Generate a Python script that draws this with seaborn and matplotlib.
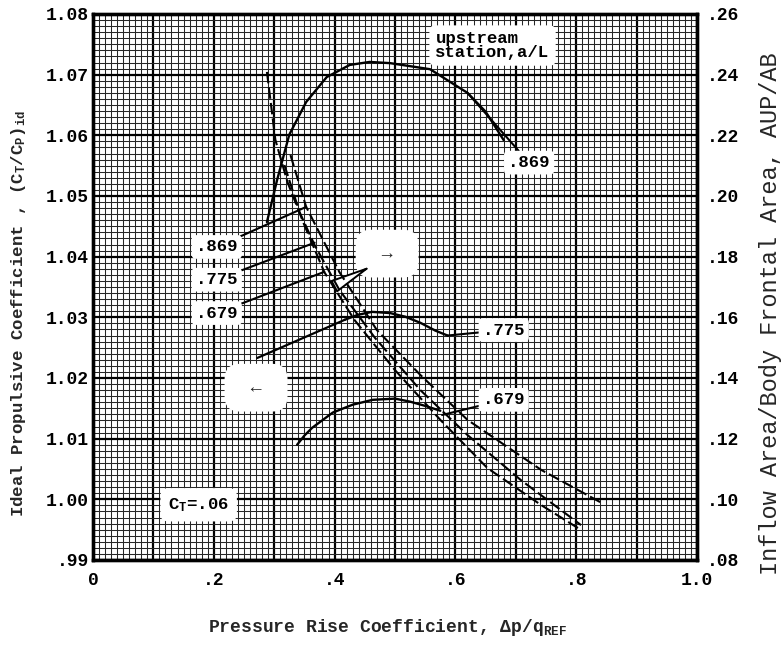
import numpy as np
import pandas as pd
import matplotlib
matplotlib.use("Agg")
import matplotlib.pyplot as plt
from matplotlib.ticker import MultipleLocator, FuncFormatter
import seaborn as sns

# Upstream stations a/L
stations = [".869", ".775", ".679"]

# Ideal propulsive coefficient (left axis) -- solid curves
eta_869_dp = [0.288, 0.305, 0.325, 0.353, 0.387, 0.425, 0.458, 0.492, 0.558, 0.620, 0.650, 0.680]
eta_869 = [1.0457, 1.0527, 1.0601, 1.0655, 1.0696, 1.0716, 1.0721, 1.0719, 1.0709, 1.0670, 1.0639, 1.0592]
eta_775_dp = [0.417, 0.438, 0.462, 0.492, 0.517, 0.542, 0.567, 0.587]
eta_775 = [1.0296, 1.0304, 1.0309, 1.0307, 1.0301, 1.0291, 1.0278, 1.0270]
eta_679_dp = [0.338, 0.350, 0.363, 0.397, 0.430, 0.463, 0.500, 0.525, 0.550, 0.575]
eta_679 = [1.0090, 1.0105, 1.0118, 1.0143, 1.0156, 1.0164, 1.0166, 1.0161, 1.0154, 1.0146]

# Inflow area / body frontal area (right axis) -- dashed curves
area_869_dp = [0.327, 0.353, 0.408, 0.470, 0.542, 0.620, 0.742, 0.845]
area_869 = [0.2135, 0.1964, 0.1749, 0.1558, 0.1410, 0.1262, 0.1097, 0.0985]
area_775_dp = [0.317, 0.342, 0.367, 0.408, 0.467, 0.542, 0.620, 0.708, 0.808]
area_775 = [0.2102, 0.1947, 0.1838, 0.1690, 0.1532, 0.1360, 0.1212, 0.1064, 0.0915]
area_679_dp = [0.288, 0.302, 0.322, 0.350, 0.383, 0.433, 0.500, 0.575, 0.653, 0.742, 0.808]
area_679 = [0.2409, 0.2185, 0.2046, 0.1904, 0.1749, 0.1591, 0.1426, 0.1262, 0.1103, 0.0981, 0.0899]

x_ticks = [0.0, 0.2, 0.4, 0.6, 0.8, 1.0]
x_tick_labels = ["0", ".2", ".4", ".6", ".8", "1.0"]
left_ticks = [0.99, 1.00, 1.01, 1.02, 1.03, 1.04, 1.05, 1.06, 1.07, 1.08]
left_tick_labels = [".99", "1.00", "1.01", "1.02", "1.03", "1.04", "1.05", "1.06", "1.07", "1.08"]
right_ticks = [0.08, 0.10, 0.12, 0.14, 0.16, 0.18, 0.20, 0.22, 0.24, 0.26]
right_tick_labels = [".08", ".10", ".12", ".14", ".16", ".18", ".20", ".22", ".24", ".26"]

solid = pd.concat([
    pd.DataFrame({"station": s, "dp": x, "eta": y})
    for s, x, y in zip(stations, [eta_869_dp, eta_775_dp, eta_679_dp], [eta_869, eta_775, eta_679])
])
dashed = pd.concat([
    pd.DataFrame({"station": s, "dp": x, "area": y})
    for s, x, y in zip(stations, [area_869_dp, area_775_dp, area_679_dp], [area_869, area_775, area_679])
])

sns.set_theme(style="white")
plt.rcParams["font.family"] = ["Liberation Mono", "DejaVu Sans"]
plt.rcParams["mathtext.fontset"] = "custom"
plt.rcParams["mathtext.rm"] = "Liberation Mono:bold"
plt.rcParams["mathtext.it"] = "Liberation Mono:bold"
plt.rcParams["mathtext.bf"] = "Liberation Mono:bold"

fig = plt.figure(figsize=(7.81, 6.45), dpi=100)
ax = fig.add_axes([0.119, 0.1318, 0.7735, 0.8465])
ax2 = ax.twinx()

# graph-paper grid
ax.set_axisbelow(True)
ax.xaxis.set_major_locator(MultipleLocator(0.1))
ax.xaxis.set_minor_locator(MultipleLocator(0.01))
ax.set_yticks(left_ticks)
ax.yaxis.set_minor_locator(MultipleLocator(0.001))
ax.grid(which="minor", color="#262626", lw=0.75)
ax.grid(which="major", color="black", lw=1.6)

xlab = {round(v, 2): t for v, t in zip(x_ticks, x_tick_labels)}
ax.xaxis.set_major_formatter(FuncFormatter(lambda v, p: xlab.get(round(v, 2), "")))
ax.set_yticklabels(left_tick_labels)
ax2.set_yticks(right_ticks)
ax2.set_yticklabels(right_tick_labels)
ax2.grid(False)

for a in (ax, ax2):
    a.tick_params(which="both", length=0, labelsize=13, colors="black")
    for lab in a.get_xticklabels() + a.get_yticklabels():
        lab.set_fontweight("bold")
    for sp in a.spines.values():
        sp.set_linewidth(2.4)
        sp.set_color("black")
ax.tick_params(axis="y", pad=3)
ax.tick_params(axis="x", pad=9)
ax2.tick_params(axis="y", pad=7)

sns.lineplot(data=solid, x="dp", y="eta", units="station", estimator=None,
             color="black", lw=1.7, ax=ax, legend=False)
sns.lineplot(data=dashed, x="dp", y="area", units="station", estimator=None,
             color="black", lw=1.5, linestyle=(0, (5.5, 2)), ax=ax2, legend=False)
ax.set_xlim(0, 1.0)
ax.set_ylim(0.99, 1.08)
ax2.set_ylim(0.08, 0.26)

ax.set_xlabel(r"Pressure Rise Coefficient, $\Delta$p/q$_{\mathrm{REF}}$",
              fontsize=13, fontweight="bold", va="center")
ax.xaxis.set_label_coords(0.488, -0.1245)
ax.set_ylabel(r"Ideal Propulsive Coefficient , $(C_T/C_P)_{id}$",
              fontsize=12.5, fontweight="bold", va="center")
ax.yaxis.set_label_coords(-0.124, 0.452)
ax2.set_ylabel("Inflow Area/Body Frontal Area, AUP/AB", fontsize=17,
               rotation=90, va="center")
ax2.yaxis.set_label_coords(1.121, 0.452)

box = dict(boxstyle="round,pad=0.25", fc="white", ec="none")
lab_kw = dict(fontsize=12.5, fontweight="bold", color="black", zorder=5)

ax.text(0.567, 1.0748, "upstream\nstation,a/L", ha="left", va="center",
        linespacing=0.85, bbox=dict(boxstyle="round,pad=0.35", fc="white", ec="none"), **lab_kw)

# labels with leader lines
lead = dict(arrowstyle="-", color="black", lw=1.5, shrinkA=0, shrinkB=0)
ax.annotate(".869", xy=(0.620, 1.0670), xytext=(0.722, 1.0555), ha="center", va="center",
            bbox=box, arrowprops=lead, **lab_kw)
ax.annotate(".869", xy=(0.353, 1.0482), xytext=(0.205, 1.0416), ha="center", va="center",
            bbox=box, arrowprops=lead, **lab_kw)
ax.annotate(".775", xy=(0.367, 1.0423), xytext=(0.205, 1.0362), ha="center", va="center",
            bbox=box, arrowprops=lead, **lab_kw)
ax.annotate(".679", xy=(0.383, 1.0375), xytext=(0.205, 1.0307), ha="center", va="center",
            bbox=box, arrowprops=lead, **lab_kw)
ax.annotate(".775", xy=(0.587, 1.0270), xytext=(0.680, 1.0279), ha="center", va="center",
            bbox=box, arrowprops=lead, **lab_kw)
ax.annotate(".679", xy=(0.578, 1.0139), xytext=(0.680, 1.0164), ha="center", va="center",
            bbox=box, arrowprops=lead, **lab_kw)

# axis-direction markers
ax.text(0.487, 1.0405, " \u2192 ", ha="center", va="center", fontsize=13, fontweight="bold",
        bbox=dict(boxstyle="round,pad=0.85", fc="white", ec="none"), zorder=5)
ax.text(0.270, 1.0184, " \u2190 ", ha="center", va="center", fontsize=13, fontweight="bold",
        bbox=dict(boxstyle="round,pad=0.85", fc="white", ec="none"), zorder=5)
ax.annotate("", xy=(0.462, 1.0385), xytext=(0.397, 1.0350),
            arrowprops=dict(arrowstyle="-|>,head_length=2.2,head_width=0.35",
                            fc="white", ec="black", lw=1.4, shrinkA=0, shrinkB=0), zorder=6)
ax.annotate("", xy=(0.417, 1.0296), xytext=(0.272, 1.0233),
            arrowprops=dict(arrowstyle="-", color="black", lw=1.6, shrinkA=0, shrinkB=0), zorder=6)

ax.text(0.175, 0.9991, r"$C_T$=.06", ha="center", va="center",
        bbox=dict(boxstyle="round,pad=0.45", fc="white", ec="none"), **lab_kw)

fig.savefig("out.png", dpi=100)
